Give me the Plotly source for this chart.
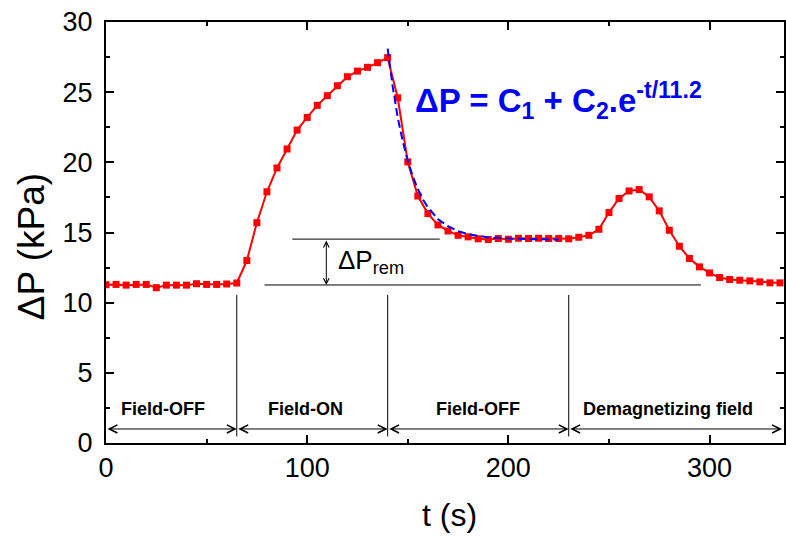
import plotly.graph_objects as go

# ---- data ----
t_data = [0, 5, 10, 15, 20, 25, 30, 35, 40, 45, 50, 55, 60, 65, 70, 75, 80, 85, 90, 95,
          100, 105, 110, 115, 120, 125, 130, 135, 140, 145, 150, 155, 160, 165, 170, 175,
          180, 185, 190, 195, 200, 205, 210, 215, 220, 225, 230, 235, 240, 245, 250, 255,
          260, 265, 270, 275, 280, 285, 290, 295, 300, 305, 310, 315, 320, 325, 330, 335]
p_data = [11.28, 11.30, 11.25, 11.30, 11.30, 11.07, 11.25, 11.25, 11.25, 11.35, 11.30, 11.30,
          11.33, 11.40, 13.00, 15.70, 17.90, 19.60, 20.95, 22.30, 23.20, 24.06, 24.75, 25.46,
          26.10, 26.50, 26.77, 27.10, 27.46, 24.60, 20.03, 17.60, 16.35, 15.54, 15.11, 14.80,
          14.69, 14.55, 14.50, 14.57, 14.52, 14.59, 14.57, 14.59, 14.57, 14.57, 14.55, 14.66,
          14.80, 15.23, 16.42, 17.42, 17.96, 18.06, 17.54, 16.54, 15.16, 14.02, 13.15, 12.55,
          12.12, 11.79, 11.65, 11.60, 11.55, 11.48, 11.41, 11.41]

t_fit = [140, 142.5, 145, 147.5, 150, 152.5, 155, 157.5, 160, 162.5, 165, 170, 175, 180,
         185, 190, 195, 200, 210, 225]
p_fit = [28.1, 25.4, 23.2, 21.5, 20.1, 19.0, 18.1, 17.35, 16.8, 16.35, 15.95, 15.45, 15.1,
         14.88, 14.74, 14.65, 14.6, 14.56, 14.52, 14.5]

phase_bounds = [0, 65, 140, 230, 336]
phase_labels = ["Field-OFF", "Field-ON", "Field-OFF", "Demagnetizing field"]
phase_label_x = [28.5, 99, 185, 279.5]

x_ticks = [0, 100, 200, 300]
y_ticks = [0, 5, 10, 15, 20, 25, 30]

rem_upper = 14.53
rem_lower = 11.26

FONT = "Liberation Sans, Arial, sans-serif"

fig = go.Figure()

fig.add_trace(go.Scatter(
    x=t_data, y=p_data, mode="lines+markers",
    line=dict(color="#ff0000", width=2),
    marker=dict(symbol="square", size=7, color="#ff0000"),
    showlegend=False, hoverinfo="skip"))

fig.add_trace(go.Scatter(
    x=t_fit, y=p_fit, mode="lines",
    line=dict(color="#0000ff", width=2, dash="8px,4px"),
    showlegend=False, hoverinfo="skip"))

shapes = []
# phase divider lines
for b in phase_bounds[1:-1]:
    shapes.append(dict(type="line", xref="x", yref="y", x0=b, x1=b, y0=0.47, y1=10.55,
                       line=dict(color="black", width=1)))
# delta P rem reference lines
shapes.append(dict(type="line", xref="x", yref="y", x0=92.6, x1=165.9, y0=rem_upper, y1=rem_upper,
                   line=dict(color="black", width=1)))
shapes.append(dict(type="line", xref="x", yref="y", x0=78.8, x1=295.7, y0=rem_lower, y1=rem_lower,
                   line=dict(color="black", width=1)))

annotations = []
# phase double arrows
for a, b in zip(phase_bounds[:-1], phase_bounds[1:]):
    annotations.append(dict(
        x=b, y=1.0, ax=a, ay=1.0, xref="x", yref="y", axref="x", ayref="y",
        text="", showarrow=True, arrowside="end+start", arrowhead=5, startarrowhead=5,
        arrowsize=1.6, startarrowsize=1.6, arrowwidth=1, arrowcolor="black",
        standoff=0, startstandoff=0))
# phase labels
for lab, xc in zip(phase_labels, phase_label_x):
    annotations.append(dict(
        x=xc, y=2.44, xref="x", yref="y", text="<b>%s</b>" % lab, showarrow=False,
        font=dict(family=FONT, size=18, color="black"), xanchor="center", yanchor="middle"))
# delta P rem arrow
annotations.append(dict(
    x=109.5, y=rem_lower, ax=109.5, ay=rem_upper, xref="x", yref="y", axref="x", ayref="y",
    text="", showarrow=True, arrowside="end+start", arrowhead=5, startarrowhead=5,
    arrowsize=1.1, startarrowsize=1.1, arrowwidth=1, arrowcolor="black",
    standoff=0, startstandoff=0))
annotations.append(dict(
    x=114.5, y=12.95, xref="x", yref="y", text="ΔP<sub>rem</sub>", showarrow=False,
    font=dict(family=FONT, size=26, color="black"), xanchor="left", yanchor="middle"))
# fit formula
annotations.append(dict(
    x=152.5, y=24.4, xref="x", yref="y",
    text="<b>ΔP = C<sub>1</sub> + C<sub>2</sub>.e<sup>-t/11.2</sup></b>", showarrow=False,
    font=dict(family=FONT, size=33, color="#0000ff"), xanchor="left", yanchor="middle"))
# axis titles
annotations.append(dict(
    x=-0.11, y=0.466, xref="paper", yref="paper", text="ΔP (kPa)", showarrow=False,
    textangle=-90, font=dict(family=FONT, size=37, color="black"),
    xanchor="center", yanchor="middle"))
annotations.append(dict(
    x=0.506, y=-0.172, xref="paper", yref="paper", text="t (s)", showarrow=False,
    font=dict(family=FONT, size=32, color="black"), xanchor="center", yanchor="middle"))

axis_common = dict(
    showline=True, linecolor="black", linewidth=2, mirror="ticks",
    ticks="inside", ticklen=8, tickwidth=1.5, tickcolor="black",
    showgrid=False, zeroline=False,
    tickfont=dict(family=FONT, size=27, color="black"),
)

fig.update_layout(
    width=786, height=539,
    margin=dict(l=106, r=0, t=22, b=96),
    paper_bgcolor="white", plot_bgcolor="white",
    shapes=shapes, annotations=annotations,
    xaxis=dict(range=[0, 337], tickvals=x_ticks, ticktext=[str(v) for v in x_ticks],
               minor=dict(dtick=50, tick0=0, ticks="inside", ticklen=4, tickwidth=1.5,
                          tickcolor="black", showgrid=False),
               ticklabelstandoff=0, **axis_common),
    yaxis=dict(range=[0, 30], tickvals=y_ticks, ticktext=[str(v) for v in y_ticks],
               minor=dict(dtick=2.5, tick0=0, ticks="inside", ticklen=4, tickwidth=1.5,
                          tickcolor="black", showgrid=False),
               ticklabelstandoff=6, **axis_common),
)

fig.write_html("out.html")
